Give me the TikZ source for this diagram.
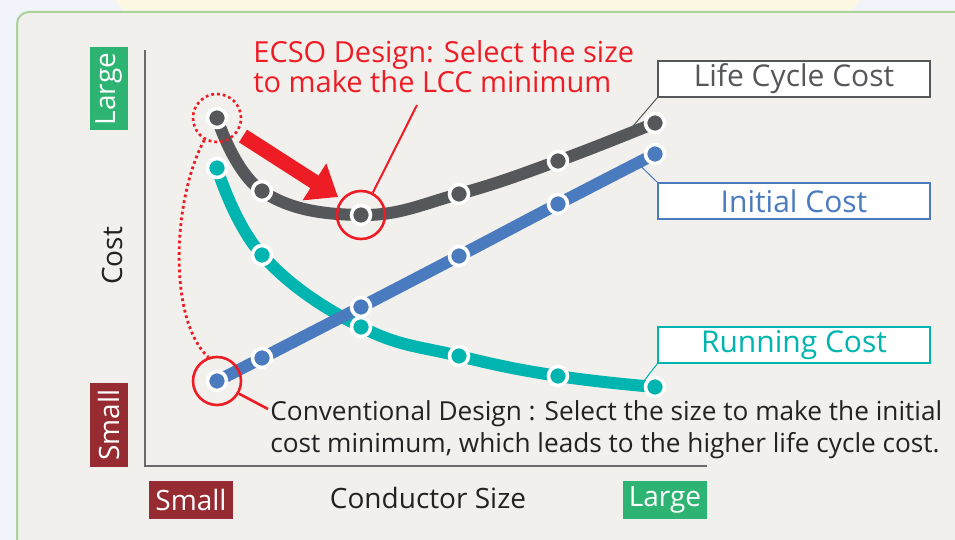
\documentclass[tikz,border=0pt]{standalone}
\usepackage{fontspec}
\setmainfont{Open Sans}
\usetikzlibrary{arrows.meta,shadows,calc}

\definecolor{lccgray}{HTML}{55575A}
\definecolor{initblue}{HTML}{4A7BBF}
\definecolor{runteal}{HTML}{00B4B0}
\definecolor{ecsored}{HTML}{EE1C25}
\definecolor{tagred}{HTML}{962B31}
\definecolor{taggreen}{HTML}{2DB472}
\definecolor{panelbg}{HTML}{F2F0EC}
\definecolor{panelline}{HTML}{A9D39A}
\definecolor{outerbg}{HTML}{F1F4FA}
\definecolor{topband}{HTML}{FCF8E4}
\definecolor{axisgray}{HTML}{6A6A6A}
\definecolor{inkblack}{HTML}{222222}

\tikzset{
  curve/.style={line width=6pt, line cap=round, #1},
  dot/.style={circle, fill=#1, draw=white, line width=1.8pt, minimum size=9.5pt, inner sep=0pt,
    drop shadow={shadow xshift=0.6pt, shadow yshift=-0.6pt, opacity=0.3, fill=black}},
  tag/.style={draw=#1, fill=white, text=#1, line width=0.7pt, minimum width=136pt, minimum height=18pt,
    inner sep=0pt, font=\fontsize{15}{18}\selectfont},
  leader/.style={draw=#1, line width=0.5pt},
  sizebox/.style={fill=#1, text=white, minimum width=42pt, minimum height=19pt, inner sep=0pt,
    font=\fontsize{14}{17}\selectfont},
  ring/.style={circle, draw=ecsored, line width=1.3pt, minimum size=24pt, inner sep=0pt},
}

\begin{document}
\begin{tikzpicture}[x=0.5pt,y=-0.5pt]
\useasboundingbox (0,0) rectangle (955,540);
% backdrop and panel
\fill[outerbg] (0,0) rectangle (955,540);
\fill[topband] (115,0) -- (860,0) -- (850,14) -- (125,14) -- cycle;
\draw[panelline, fill=panelbg, line width=1pt, rounded corners=6pt] (17,12) rectangle (990,580);

% axes
\draw[axisgray, line width=0.8pt] (145,50) |- (707,466);
\node[sizebox=taggreen, rotate=90, minimum width=41.5pt] (ylarge) at (109,89) {Large};
\node[sizebox=tagred, rotate=90] (ysmall) at (109,425) {Small};
\node[rotate=90, inkblack, font=\fontsize{14}{17}\selectfont] (ytitle) at (112,256) {Cost};
\node[sizebox=tagred] (xsmall) at (191,500) {Small};
\node[inkblack, font=\fontsize{14}{17}\selectfont] (xtitle) at (428,498) {Conductor Size};
\node[sizebox=taggreen] (xlarge) at (665,500) {Large};

% data points: x / LCC / initial / running
\foreach \x/\yl/\yi/\yr [count=\n] in {217/118/381/168, 262/191/358/255, 361/215/307/327,
    459/194/256/356, 558/161/204/376, 655/123/154/387}{
  \coordinate (l\n) at (\x,\yl);
  \coordinate (i\n) at (\x,\yi);
  \coordinate (r\n) at (\x,\yr);
}

% series labels
\node[tag=lccgray] (lcctag) at (794,79) {Life Cycle Cost};
\node[tag=initblue] (inittag) at (794,201) {Initial Cost};
\node[tag=runteal] (runtag) at (794,345) {Running Cost};
\draw[leader=lccgray] ($(l5)!0.7!(l6)$) -- (lcctag.south west);
\draw[leader=initblue] ($(i5)!0.82!(i6)$) -- (inittag.north west);
\draw[leader=runteal] ($(r5)!0.85!(r6)$) -- (runtag.south west);

% curves
\draw[curve=runteal] plot[smooth, tension=0.7] coordinates {(r1) (r2) (r3) (r4) (r5) (r6)};
\draw[curve=initblue] plot[smooth, tension=0.7] coordinates {(i1) (i2) (i3) (i4) (i5) (i6)};
\draw[curve=lccgray] plot[smooth, tension=0.7] coordinates {(l1) (l2) (l3) (l4) (l5) (l6)};
\foreach \s/\c in {r/runteal, i/initblue, l/lccgray}
  \foreach \n in {1,...,6}
    \node[dot=\c] (\s dot\n) at (\s\n) {};

% ECSO design
\node[ring, dash pattern=on 1.4pt off 1.5pt] (topring) at (l1) {};
\node[ring] (minring) at (l3) {};
\node[ecsored, anchor=north west, align=left, inner sep=0pt,
  font=\fontsize{14.5}{15}\selectfont] (ecsonote) at (253,40) {ECSO Design: Select the size\\to make the LCC minimum};
\coordinate (ecsotail) at (417,105);
\draw[ecsored, line width=1pt] (minring.62) -- (ecsotail);
\coordinate (arrowfrom) at (243,136);
\coordinate (arrowto) at (338,197);
\draw[ecsored, line width=7.5pt, -{Triangle[length=14pt, width=21pt]}] (arrowfrom) -- (arrowto);

% conventional design
\node[ring] (lowring) at (i1) {};
\draw[ecsored, line width=1.4pt, dash pattern=on 1.4pt off 1.5pt]
  (topring.240) .. controls (172,200) and (168,320) .. (lowring.110);
\node[inkblack, anchor=north west, align=left, inner sep=0pt,
  font=\fontsize{13.1}{16}\selectfont] (convnote) at (270,400)
  {Conventional Design : Select the size to make the initial\\cost minimum, which leads to the higher life cycle cost.};
\coordinate (convtail) at (268,409);
\draw[ecsored, line width=1.3pt] (lowring.-30) -- (convtail);
\end{tikzpicture}
\end{document}
